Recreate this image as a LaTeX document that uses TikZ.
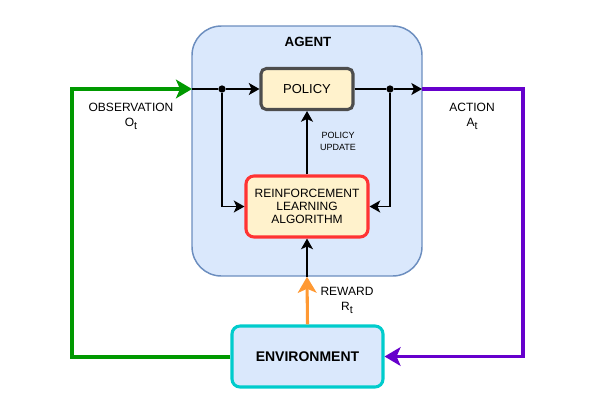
\documentclass[tikz,border=0pt]{standalone}
\usepackage{fontspec}
\setmainfont{Liberation Sans}
\usetikzlibrary{arrows.meta}
\definecolor{bluefill}{HTML}{DAE8FC}
\definecolor{bluedraw}{HTML}{6C8EBF}
\definecolor{yellowfill}{HTML}{FFF2CC}
\definecolor{policydraw}{HTML}{4D4D4D}
\definecolor{rldraw}{HTML}{FF3333}
\definecolor{envdraw}{HTML}{00CCCC}
\definecolor{obsgreen}{HTML}{009900}
\definecolor{actpurple}{HTML}{6600CC}
\definecolor{reworange}{HTML}{FF9933}
\newcommand{\lowsub}[1]{\raisebox{-2.2pt}{\fontsize{8}{8}\selectfont #1}}

\begin{document}
\begin{tikzpicture}[x=0.75pt,y=-0.75pt,
  box/.style={draw, inner sep=0pt, align=center},
  dot/.style={circle, fill, inner sep=0pt, minimum size=5.5pt},
  lbl/.style={align=center, font=\fontsize{9}{11.25}\selectfont},
  flow/.style={line width=1.1pt, -{Stealth[length=8pt,width=9pt,inset=2pt]}},
  thickflow/.style={-{Stealth[length=12pt,width=14pt,inset=3pt]}}]
\useasboundingbox (0,0) rectangle (605,419);

% agent
\node[box, fill=bluefill, draw=bluedraw, line width=1.1pt, rounded corners=22pt,
  minimum width=172.5pt, minimum height=187.5pt] (agent) at (307,151) {};
\node[font=\fontsize{10}{11}\selectfont\bfseries] (agenttitle) at (308,42) {AGENT};

\node[box, fill=yellowfill, draw=policydraw, line width=2.3pt, rounded corners=4pt,
  minimum width=69pt, minimum height=30.75pt, font=\fontsize{9.75}{11}\selectfont]
  (policy) at (307,89) {POLICY};
\node[box, fill=yellowfill, draw=rldraw, line width=2.3pt, rounded corners=6pt,
  minimum width=91.5pt, minimum height=45.75pt, font=\fontsize{9}{10}\selectfont]
  (rl) at (307,206.5) {REINFORCEMENT\\LEARNING\\ALGORITHM};
\node[box, fill=bluefill, draw=envdraw, line width=2.3pt, rounded corners=6pt,
  minimum width=113.25pt, minimum height=45.75pt, font=\fontsize{10.5}{12}\selectfont\bfseries]
  (env) at (307.5,356.5) {ENVIRONMENT};

\node[dot] (d1) at (222,89) {};
\node[dot] (d2) at (390,89) {};
\coordinate (in) at (192,89);
\coordinate (out) at (422,89);
\coordinate (gcorner) at (72,89);
\coordinate (pcorner) at (523,89);

% labels
\node[lbl] (obs) at (131,116) {OBSERVATION\\O\lowsub{t}};
\node[lbl] (act) at (472,116) {ACTION\\A\lowsub{t}};
\node[lbl] (rew) at (347,300) {REWARD\\R\lowsub{t}};
\node[align=center, font=\fontsize{6.75}{8.5}\selectfont] (upd) at (338,141.5) {POLICY\\UPDATE};

% connectors
\draw[flow, -] (in) -- (d1);
\draw[flow] (d1) -- (policy);
\draw[flow, -] (policy) -- (d2);
\draw[flow] (d2) -- (out);
\draw[flow] (d1) |- (rl.west);
\draw[flow] (d2) |- (rl.east);
\draw[flow] (rl) -- (policy);
\draw[flow] (agent.south) -- (rl.south);
\draw[obsgreen, line width=3pt, thickflow] (env.west) -| (gcorner) -- (in);
\draw[actpurple, line width=2.3pt, thickflow] (out) -- (pcorner) |- (env.east);
\draw[reworange, line width=2.3pt, thickflow] (env.north) -- (agent.south);
\end{tikzpicture}
\end{document}
